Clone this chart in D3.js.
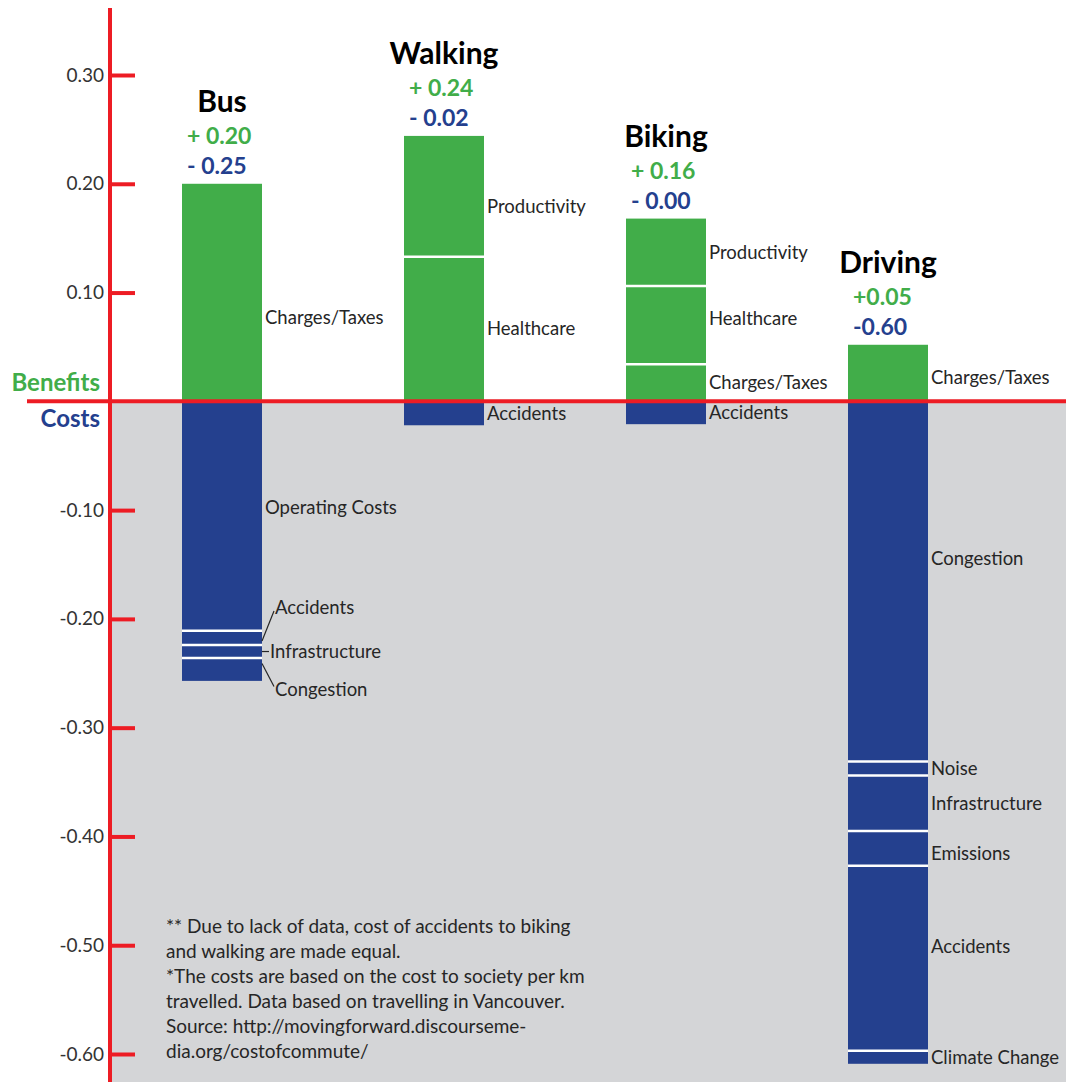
<!DOCTYPE html>
<html>
<head>
<meta charset="utf-8">
<script src="https://cdn.jsdelivr.net/npm/d3@7"></script>
<style>
  body { margin: 0; background: #fff; }
  svg { display: block; font-family: Lato, "Noto Sans", sans-serif; }
</style>
</head>
<body>
<div id="chart"></div>
<script>
// commute modes and their totals as printed above each bar
var modes = ["Bus", "Walking", "Biking", "Driving"];
var benefitTotals = ["+ 0.20", "+ 0.24", "+ 0.16", "+0.05"];
var costTotals = ["- 0.25", "- 0.02", "- 0.00", "-0.60"];

// benefit segments, stacked up from zero
var benefitNames = [
  ["Charges/Taxes"],
  ["Healthcare", "Productivity"],
  ["Charges/Taxes", "Healthcare", "Productivity"],
  ["Charges/Taxes"]
];
var benefitValues = [
  [0.200],
  [0.133, 0.111],
  [0.034, 0.072, 0.062],
  [0.052]
];

// cost segments, stacked down from zero
var costNames = [
  ["Operating Costs", "Accidents", "Infrastructure", "Congestion"],
  ["Accidents"],
  ["Accidents"],
  ["Congestion", "Noise", "Infrastructure", "Emissions", "Accidents", "Climate Change"]
];
var costValues = [
  [0.211, 0.013, 0.012, 0.021],
  [0.022],
  [0.021],
  [0.331, 0.013, 0.051, 0.032, 0.170, 0.012]
];

var tickValues = [0.3, 0.2, 0.1, -0.1, -0.2, -0.3, -0.4, -0.5, -0.6];

var footnote = [
  "** Due to lack of data, cost of accidents to biking",
  "and walking are made equal.",
  "*The costs are based on the cost to society per km",
  "travelled. Data based on travelling in Vancouver.",
  "Source: http://movingforward.discourseme-",
  "dia.org/costofcommute/"
];

var W = 1066, H = 1082;
var green = "#41ad49", blue = "#24408e", red = "#ed1c24", grey = "#d4d5d7";
var textCol = "#262626";
var barW = 80;

// labels that don't sit exactly at the middle of their segment (px)
var nudge = {
  "Bus|Charges/Taxes": 25,
  "Bus|Operating Costs": -9,
  "Walking|Productivity": 10,
  "Biking|Healthcare": -7,
  "Driving|Congestion": -23,
  "Driving|Emissions": 5,
  "Driving|Accidents": -12,
  "Driving|Charges/Taxes": 4
};

var svg = d3.select("#chart").append("svg")
    .attr("width", W)
    .attr("height", H);

var x = d3.scalePoint().domain(modes).range([222, 888]);
var y = d3.scaleLinear().domain([-0.6, 0.3]).range([1054, 75]);
var axisX = 110;

// grey "costs" area
svg.append("rect")
   .attr("x", axisX)
   .attr("y", y(0))
   .attr("width", W - axisX)
   .attr("height", H - y(0))
   .style("fill", grey);

// stack the segments
function stack(values, sign) {
  var acc = 0;
  return values.map(function(v) {
    var s = { from: acc, to: acc + sign * v };
    acc += sign * v;
    return s;
  });
}

function segLabel(g, lx, ly, txt) {
  g.append("text")
    .attr("x", lx)
    .attr("y", ly)
    .attr("dy", ".35em")
    .style("font-size", "18.5px").style("fill", textCol)
    .text(txt);
}

modes.forEach(function(mode, m) {
  var left = x(mode) - barW / 2;
  var right = left + barW;
  var g = svg.append("g").attr("class", "mode");

  var ben = stack(benefitValues[m], 1);
  var cost = stack(costValues[m], -1);

  g.selectAll("rect.ben").data(ben).enter().append("rect")
    .attr("class", "ben")
    .attr("x", left).attr("width", barW)
    .attr("y", function(d) { return y(d.to); })
    .attr("height", function(d) { return y(d.from) - y(d.to); })
    .style("fill", green);

  g.selectAll("rect.cost").data(cost).enter().append("rect")
    .attr("class", "cost")
    .attr("x", left).attr("width", barW)
    .attr("y", function(d) { return y(d.from); })
    .attr("height", function(d) { return y(d.to) - y(d.from); })
    .style("fill", blue);

  // white separators between segments
  var seps = ben.slice(0, -1).map(function(d) { return d.to; })
    .concat(cost.slice(0, -1).map(function(d) { return d.to; }));
  g.selectAll("line.sep").data(seps).enter().append("line")
    .attr("x1", left).attr("x2", right)
    .attr("y1", function(d) { return y(d); })
    .attr("y2", function(d) { return y(d); })
    .style("stroke", "#fff").style("stroke-width", 2.5);

  // segment labels
  ben.forEach(function(d, i) {
    var name = benefitNames[m][i];
    var cy = (y(d.from) + y(d.to)) / 2 + (nudge[mode + "|" + name] || 0);
    segLabel(g, right + 3, cy, name);
  });
  cost.forEach(function(d, i) {
    var name = costNames[m][i];
    var cy = (y(d.from) + y(d.to)) / 2;
    var ly = cy + (nudge[mode + "|" + name] || 0), lx = right + 3;
    if (mode === "Bus" && i > 0) {
      // small segments get leader lines
      var off = [0, -30, 0, 20][i];
      ly = cy + off;
      lx = right + (i === 2 ? 8 : 13);
      g.append("line")
        .attr("x1", right).attr("y1", cy + (i === 1 ? 3 : i === 3 ? -6 : 0))
        .attr("x2", lx - 1).attr("y2", ly + (i === 1 ? 3 : i === 3 ? -3 : 0))
        .style("stroke", textCol).style("stroke-width", 1.2);
    }
    segLabel(g, lx, ly, name);
  });

  // title and totals above the bar
  var top = y(d3.sum(benefitValues[m]));
  g.append("text")
    .attr("x", x(mode)).attr("y", top - 72)
    .attr("text-anchor", "middle")
    .style("font-size", "30px").style("font-weight", "bold").style("fill", "#000")
    .text(mode);
  g.append("text")
    .attr("x", left + 5).attr("y", top - 40)
    .style("font-size", "23px").style("font-weight", "bold").style("fill", green)
    .text(benefitTotals[m]);
  g.append("text")
    .attr("x", left + 5).attr("y", top - 10)
    .style("font-size", "23px").style("font-weight", "bold").style("fill", blue)
    .text(costTotals[m]);
});

// zero line
svg.append("line")
   .attr("x1", 27).attr("x2", W)
   .attr("y1", y(0)).attr("y2", y(0))
   .style("stroke", red).style("stroke-width", 4);

// vertical axis with ticks pointing right
var axis = svg.append("g")
   .attr("transform", "translate(" + axisX + ",0)")
   .call(d3.axisLeft(y)
     .tickValues(tickValues)
     .tickSize(-25)
     .tickPadding(6)
     .tickFormat(function(d) { return d.toFixed(2); }));
axis.select(".domain").remove();
axis.selectAll(".tick line").style("stroke", red).style("stroke-width", 4);
axis.selectAll(".tick text")
   .style("font-family", "Lato, 'Noto Sans', sans-serif")
   .style("font-size", "19px").style("fill", "#333");

svg.append("line")
   .attr("x1", axisX).attr("x2", axisX)
   .attr("y1", 8).attr("y2", H)
   .style("stroke", red).style("stroke-width", 4);

// benefits / costs labels
svg.append("text")
   .attr("x", 100).attr("y", y(0) - 10)
   .attr("text-anchor", "end")
   .style("font-size", "24px").style("font-weight", "bold").style("fill", green)
   .text("Benefits");
svg.append("text")
   .attr("x", 100).attr("y", y(0) + 26)
   .attr("text-anchor", "end")
   .style("font-size", "24px").style("font-weight", "bold").style("fill", blue)
   .text("Costs");

// footnote
svg.append("g").selectAll("text").data(footnote).enter().append("text")
   .attr("x", 166)
   .attr("y", function(d, i) { return 933 + i * 25; })
   .style("font-size", "19px").style("fill", textCol)
   .text(function(d) { return d; });
</script>
</body>
</html>
